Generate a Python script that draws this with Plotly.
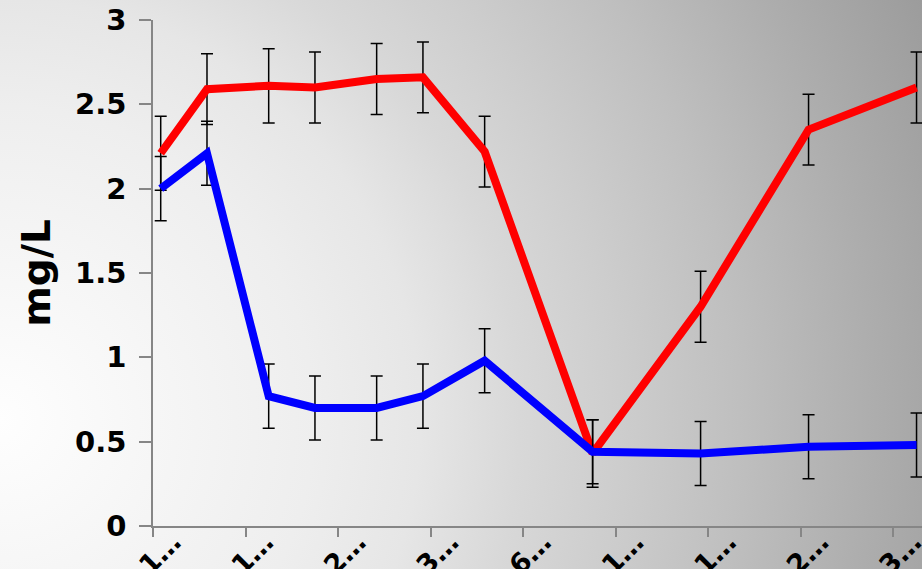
import base64
import plotly.graph_objects as go

# ---- data ----
days = [0, 3, 7, 10, 14, 17, 21, 28, 35, 42, 49]
red_vals = [2.21, 2.59, 2.61, 2.60, 2.65, 2.66, 2.22, 0.43, 1.30, 2.35, 2.60]
red_err = [0.22, 0.21, 0.22, 0.21, 0.21, 0.21, 0.21, 0.20, 0.21, 0.21, 0.21]
blue_vals = [2.00, 2.21, 0.77, 0.70, 0.70, 0.77, 0.98, 0.44, 0.43, 0.47, 0.48]
blue_err = [0.19, 0.19, 0.19, 0.19, 0.19, 0.19, 0.19, 0.19, 0.19, 0.19, 0.19]
tick_pos = [-0.5, 5.5, 11.5, 17.5, 23.5, 29.5, 35.5, 41.5, 47.5]
tick_text = ["1…", "1…", "2…", "3…", "6…", "1…", "1…", "2…", "3…"]
y_ticks = [0, 0.5, 1, 1.5, 2, 2.5, 3]
y_tick_text = ["0", "0.5", "1", "1.5", "2", "2.5", "3"]

W, H = 922, 569
ML, MR, MT, MB = 153, 0, 20, 43
PW, PH = W - ML - MR, H - MT - MB

FONT = "DejaVu Sans"

# background radial gradient (SVG data URI)
stops = [(0, 254), (0.31, 238), (0.415, 230), (0.513, 216), (0.612, 205),
         (0.73, 191), (0.864, 173), (1.0, 156)]
stop_svg = "".join(
    f"<stop offset='{o}' stop-color='rgb({c},{c},{c})'/>" for o, c in stops)
svg = (f"<svg xmlns='http://www.w3.org/2000/svg' width='{W}' height='{H}' "
       f"viewBox='0 0 {W} {H}' preserveAspectRatio='none'><defs>"
       f"<radialGradient id='g' gradientUnits='userSpaceOnUse' cx='0' cy='420' r='1013'>"
       f"{stop_svg}</radialGradient></defs>"
       f"<rect width='{W}' height='{H}' fill='url(#g)'/></svg>")
bg_src = "data:image/svg+xml;base64," + base64.b64encode(svg.encode()).decode()

fig = go.Figure()
fig.add_trace(go.Scatter(
    x=days, y=red_vals, mode="lines",
    line=dict(color="#ff0000", width=8),
    error_y=dict(type="data", array=red_err, visible=True,
                 color="black", thickness=1.5, width=6),
    showlegend=False, cliponaxis=False))
fig.add_trace(go.Scatter(
    x=days, y=blue_vals, mode="lines",
    line=dict(color="#0000ff", width=8),
    error_y=dict(type="data", array=blue_err, visible=True,
                 color="black", thickness=1.5, width=6),
    showlegend=False, cliponaxis=False))

x_range = [-0.5, -0.5 + PW / 15.425]
label_shift = 1.3
# invisible trace on the label axis so it renders
fig.add_trace(go.Scatter(x=[days[0]], y=[red_vals[0]], xaxis="x2", mode="markers",
                         marker=dict(opacity=0), showlegend=False, hoverinfo="skip"))

fig.update_layout(
    width=W, height=H,
    margin=dict(l=ML, r=MR, t=MT, b=MB, pad=0, autoexpand=False),
    paper_bgcolor="rgba(0,0,0,0)", plot_bgcolor="rgba(0,0,0,0)",
    images=[dict(source=bg_src, xref="paper", yref="paper",
                 x=-ML / PW, y=1 + MT / PH, sizex=W / PW, sizey=H / PH,
                 xanchor="left", yanchor="top", sizing="stretch", layer="below")],
    xaxis=dict(range=x_range, tickmode="array", tickvals=tick_pos,
               showticklabels=False, ticks="outside", ticklen=9, tickwidth=1.5,
               tickcolor="#868686", showline=True, linecolor="#868686",
               linewidth=1.5, showgrid=False, zeroline=False, automargin=False),
    xaxis2=dict(range=x_range, overlaying="x", side="bottom",
                anchor="free", position=0.012,
                tickmode="array", tickvals=[t + label_shift for t in tick_pos],
                ticktext=tick_text, tickangle=-45, ticks="", showline=False,
                showgrid=False, zeroline=False, automargin=False,
                ticklabeloverflow="allow",
                tickfont=dict(family=FONT, size=27, color="black", weight="bold")),
    yaxis=dict(range=[0, 3], tickmode="array", tickvals=y_ticks,
               ticktext=y_tick_text, ticks="outside", ticklen=12,
               tickwidth=1.5, tickcolor="#868686", showline=True,
               linecolor="#868686", linewidth=1.5, showgrid=False,
               zeroline=False, automargin=False, ticklabelstandoff=7,
               tickfont=dict(family=FONT, size=29, color="black", weight="bold"),
               title=dict(text="mg/L", standoff=12,
                          font=dict(family=FONT, size=39, color="black",
                                    weight="bold"))),
)

fig.write_html("out.html")
